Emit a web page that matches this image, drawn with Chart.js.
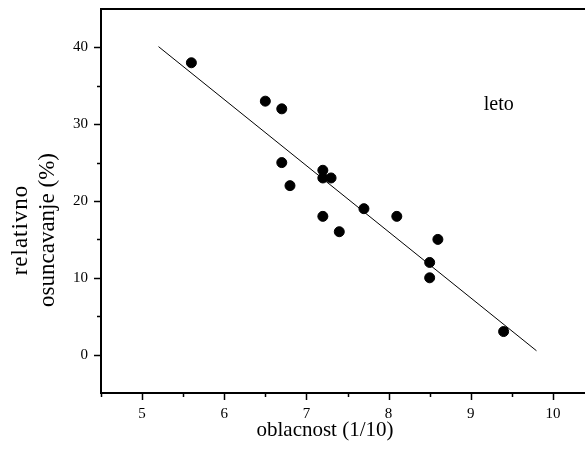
<!DOCTYPE html>
<html>
<head>
<meta charset="utf-8">
<script src="https://cdn.jsdelivr.net/npm/chart.js@4/dist/chart.umd.min.js"></script>
<style>
  html, body { margin: 0; padding: 0; background: #fff; overflow: hidden; }
  #wrap { width: 600px; height: 456px; }
</style>
</head>
<body>
<div id="wrap"><canvas id="c" width="600" height="456"></canvas></div>
<script>
// Cloudiness (tenths of sky covered) and relative sunshine (%) for summer
const cloudiness = [5.6, 6.5, 6.7, 6.7, 6.8, 7.2, 7.2, 7.3, 7.2, 7.4, 7.7, 8.1, 8.6, 8.5, 8.5, 9.4];
const sunshine   = [38, 33, 32, 25, 22, 24, 23, 23, 18, 16, 19, 18, 15, 12, 10, 3];

// Fitted regression line, end points
const fitX = [5.2, 9.8];
const fitY = [40.1, 0.5];

// Axis ranges and labelled ticks
const xRange = [4.5, 10.5];
const yRange = [-5, 45];
const xTickLabels = [5, 6, 7, 8, 9, 10];
const yTickLabels = [0, 10, 20, 30, 40];

const seasonLabel = 'leto';
const seasonPos = [9.34, 31.9];
const xTitle = 'oblacnost (1/10)';
const yTitle = ['relativno', 'osuncavanje (%)'];

const SERIF = '"Liberation Serif", "Times New Roman", serif';

const points = cloudiness.map((v, i) => ({ x: v, y: sunshine[i] }));
const fitLine = fitX.map((v, i) => ({ x: v, y: fitY[i] }));

// Frame line on top, major/minor ticks, titles and the season note
const decor = {
  id: 'decor',
  afterDraw(chart) {
    const { ctx, chartArea: a, scales: { x, y } } = chart;
    ctx.save();
    ctx.strokeStyle = '#000';
    ctx.lineWidth = 2;
    ctx.beginPath();
    ctx.moveTo(a.left - 1, a.top);
    ctx.lineTo(a.right, a.top);
    ctx.stroke();

    ctx.lineWidth = 1.5;
    x.ticks.forEach(t => {
      const px = Math.round(x.getPixelForValue(t.value)) + 0.5;
      const len = Number.isInteger(t.value) ? 7 : 4;
      ctx.beginPath();
      ctx.moveTo(px, a.bottom);
      ctx.lineTo(px, a.bottom + len);
      ctx.stroke();
    });
    y.ticks.forEach(t => {
      if (t.value <= yRange[0] || t.value >= yRange[1]) return;
      const py = Math.round(y.getPixelForValue(t.value)) + 0.5;
      const len = (t.value % 10 === 0) ? 7 : 4;
      ctx.beginPath();
      ctx.moveTo(a.left, py);
      ctx.lineTo(a.left - len, py);
      ctx.stroke();
    });

    ctx.fillStyle = '#000';
    ctx.textAlign = 'center';
    ctx.textBaseline = 'alphabetic';

    ctx.font = '21px ' + SERIF;
    ctx.fillText(xTitle, a.left + 224, a.bottom + 43);

    ctx.save();
    ctx.font = '23px ' + SERIF;
    ctx.translate(a.left - 74, a.top + 221);
    ctx.rotate(-Math.PI / 2);
    ctx.fillText(yTitle[1], 0, 27);
    ctx.letterSpacing = '1px';
    ctx.fillText(yTitle[0], 0, 0);
    ctx.restore();

    ctx.font = '20px ' + SERIF;
    ctx.fillText(seasonLabel, x.getPixelForValue(seasonPos[0]), y.getPixelForValue(seasonPos[1]));
    ctx.restore();
  }
};

new Chart(document.getElementById('c'), {
  type: 'scatter',
  data: {
    datasets: [
      {
        label: 'fit',
        type: 'line',
        data: fitLine,
        borderColor: '#000',
        borderWidth: 1,
        pointRadius: 0,
        fill: false,
        tension: 0
      },
      {
        label: 'leto',
        data: points,
        backgroundColor: '#000',
        borderColor: '#000',
        pointRadius: 5,
        pointHoverRadius: 5
      }
    ]
  },
  options: {
    responsive: false,
    animation: false,
    events: [],
    layout: { padding: { top: 9, right: 5, left: 0, bottom: 0 } },
    plugins: { legend: { display: false }, tooltip: { enabled: false } },
    scales: {
      x: {
        type: 'linear',
        min: xRange[0],
        max: xRange[1],
        afterFit: s => { s.height = 63; s.paddingLeft = 0; s.paddingRight = 0; },
        border: { display: true, color: '#000', width: 2 },
        grid: { drawOnChartArea: false, drawTicks: true, tickLength: 8, tickColor: 'rgba(0,0,0,0)' },
        ticks: {
          stepSize: 0.5,
          autoSkip: false,
          maxRotation: 0,
          padding: 4,
          color: '#000',
          font: { family: SERIF, size: 15 },
          callback: v => xTickLabels.includes(v) ? String(v) : ''
        }
      },
      y: {
        type: 'linear',
        min: yRange[0],
        max: yRange[1],
        afterFit: s => { s.width = 101; s.paddingTop = 0; s.paddingBottom = 0; },
        border: { display: true, color: '#000', width: 2 },
        grid: { drawOnChartArea: false, drawTicks: true, tickLength: 8, tickColor: 'rgba(0,0,0,0)' },
        ticks: {
          stepSize: 5,
          autoSkip: false,
          padding: 5,
          color: '#000',
          font: { family: SERIF, size: 15 },
          callback: v => yTickLabels.includes(v) ? String(v) : ''
        }
      }
    }
  },
  plugins: [decor]
});
</script>
</body>
</html>
